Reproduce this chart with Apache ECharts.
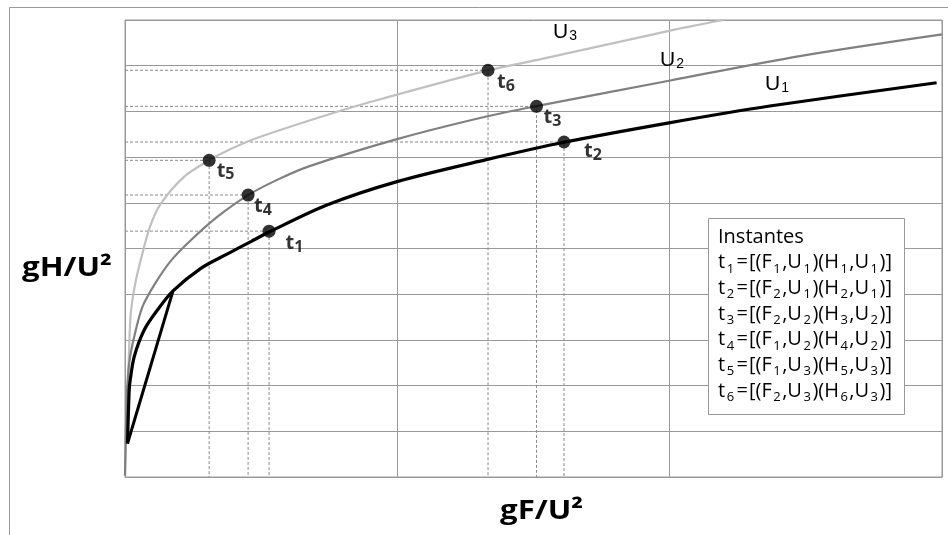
<!DOCTYPE html>
<html><head><meta charset="utf-8">
<script src="https://cdn.jsdelivr.net/npm/echarts@6/dist/echarts.min.js"></script>
<style>html,body{margin:0;padding:0;background:#fff}#c{width:948px;height:535px}</style>
</head><body><div id="c"></div>
<script>
// ---- data (axis units: x 0..3, y 0..10, no tick labels in the original) ----
const u1X = [0.0092, 0.0154, 0.0191, 0.0338, 0.0705, 0.1194, 0.1763, 0.2785, 0.3766, 0.4622, 0.5290, 0.7392, 1.0022, 1.3270, 1.6121, 1.9978, 2.3677, 2.9802];
const u1Y = [0.732, 1.901, 2.121, 2.632, 3.217, 3.656, 4.072, 4.566, 4.884, 5.151, 5.360, 5.947, 6.469, 6.945, 7.325, 7.750, 8.118, 8.627];
const u1ChordX = [0.0092, 0.1763];
const u1ChordY = [0.732, 4.072];
const u2X = [0.0, 0.0066, 0.0154, 0.0338, 0.0643, 0.1121, 0.1683, 0.2417, 0.3398, 0.4519, 0.5603, 0.6778, 1.0022, 1.3270, 1.5107, 1.9978, 2.4779, 3.0];
const u2Y = [0.03, 1.754, 2.494, 3.070, 3.728, 4.248, 4.730, 5.180, 5.695, 6.167, 6.507, 6.803, 7.399, 7.888, 8.114, 8.671, 9.211, 9.686];
const u3X = [0.0, 0.0154, 0.0213, 0.0367, 0.0588, 0.0918, 0.1315, 0.2175, 0.3086, 0.3766, 0.4941, 0.7880, 0.9471, 1.3328, 1.5228, 1.9978, 2.1962];
const u3Y = [0.05, 2.851, 3.583, 4.204, 4.774, 5.476, 5.980, 6.572, 6.930, 7.147, 7.439, 8.009, 8.283, 8.897, 9.138, 9.763, 10.0];
const instantIdx = ['1', '2', '3', '4', '5', '6'];
const instantX = [0.529, 1.612, 1.511, 0.452, 0.309, 1.333];
const instantY = [5.38, 7.33, 8.11, 6.17, 6.93, 8.90];
const legendF = ['1', '2', '2', '1', '1', '2'];
const legendU = ['1', '1', '2', '2', '3', '3'];
const legendH = ['1', '2', '3', '4', '5', '6'];
const curveIdx = ['1', '2', '3'];
const legendTitle = 'Instantes';
const yTitle = 'gH/U²';
const xTitle = 'gF/U²';

// ---- style ----
const labelOffsets = [[10, 13], [13.5, 10], [0.5, 12], [-0.5, 12], [1, 11.5], [2.5, 13]];
const curveLabelPos = [[765, 74], [660, 50], [553, 22]];
const gridColor = '#999';

const pairs = (xs, ys) => xs.map((x, i) => [x, ys[i]]);
const chart = echarts.init(document.getElementById('c'));

const guideSeries = instantX.map((x, i) => ({
  type: 'line', silent: true, symbol: 'none', z: 1,
  data: [[0, instantY[i]], [x, instantY[i]], [x, 0]],
  lineStyle: { color: '#8a8a8a', width: 1, type: [3, 2] }
}));

const curveStyle = { type: 'line', symbol: 'none', smooth: 0.3, silent: true, z: 3 };

const legendLines = ['{n|' + legendTitle + '}'].concat(instantIdx.map((t, i) =>
  '{n|t}{s|' + t + '}{e|=}{n|[(F}{s|' + legendF[i] + '}{n|,U}{s|' + legendU[i] + '}{n|)(H}{s|' + legendH[i] + '}{n|,U}{s|' + legendU[i] + '}{n|)]}'
));

const option = {
  animation: false,
  backgroundColor: '#fff',
  grid: { left: 125, right: 6, top: 20, bottom: 58, show: true, borderColor: gridColor, borderWidth: 1 },
  xAxis: {
    type: 'value', min: 0, max: 3, interval: 1,
    axisLine: { show: true, lineStyle: { color: gridColor } }, axisTick: { show: false }, axisLabel: { show: false },
    splitLine: { show: true, lineStyle: { color: gridColor, width: 1 } }
  },
  yAxis: {
    type: 'value', min: 0, max: 10, interval: 1,
    axisLine: { show: true, lineStyle: { color: gridColor } }, axisTick: { show: false }, axisLabel: { show: false },
    splitLine: { show: true, lineStyle: { color: gridColor, width: 1 } }
  },
  series: guideSeries.concat([
    Object.assign({}, curveStyle, { name: 'U3', data: pairs(u3X, u3Y), lineStyle: { color: '#c0c0c0', width: 2.2 } }),
    Object.assign({}, curveStyle, { name: 'U2', data: pairs(u2X, u2Y), lineStyle: { color: '#808080', width: 2.2 } }),
    Object.assign({}, curveStyle, { name: 'U1', data: pairs(u1X, u1Y), lineStyle: { color: '#000', width: 3.2 } }),
    { type: 'line', symbol: 'none', silent: true, z: 3, data: pairs(u1ChordX, u1ChordY), lineStyle: { color: '#000', width: 3 } },
    {
      type: 'scatter', z: 5, symbol: 'circle', symbolSize: 13, itemStyle: { color: '#000' },
      data: instantX.map((x, i) => ({
        value: [x, instantY[i]], name: instantIdx[i],
        label: { offset: labelOffsets[i] }
      })),
      label: {
        show: true, position: 'right', distance: 0,
        formatter: p => '{t|t}{s|' + p.name + '}',
        rich: {
          t: { fontSize: 20, fontWeight: 'bold', fontFamily: 'Open Sans', color: '#000', lineHeight: 22, verticalAlign: 'top' },
          s: { fontSize: 16, fontWeight: 'bold', fontFamily: 'Open Sans', color: '#000', lineHeight: 16, verticalAlign: 'bottom', padding: [12, 0, 0, 0] }
        }
      }
    }
  ]),
  graphic: [
    { type: 'polyline', z: 0, silent: true, shape: { points: [[9.5, 540], [9.5, 7.5], [950, 7.5]] }, style: { stroke: '#999', fill: null, lineWidth: 1 } },
    { type: 'rect', z: 100, silent: true, shape: { x: 708.5, y: 218.5, width: 196, height: 196 }, style: { fill: '#fff', stroke: '#999', lineWidth: 1 } },
    {
      type: 'text', z: 101, silent: true, x: 718, y: 224,
      style: {
        text: legendLines.join('\n'), fill: '#000', align: 'left', verticalAlign: 'top',
        rich: {
          n: { fontSize: 20, fontFamily: 'Open Sans', fill: '#000', lineHeight: 25.7, verticalAlign: 'middle' },
          e: { fontSize: 20, fontFamily: 'Open Sans', fill: '#000', lineHeight: 25.7, verticalAlign: 'middle', padding: [0, 1, 0, 1] },
          s: { fontSize: 13, fontFamily: 'Open Sans', fill: '#000', lineHeight: 14, verticalAlign: 'bottom', padding: [0, 1.5, 0, 1.5] }
        }
      }
    },
    {
      type: 'text', z: 101, silent: true, x: 22, y: 269, scaleX: 1.2,
      style: { text: yTitle, font: 'bold 26px "Open Sans"', fill: '#000', align: 'left', verticalAlign: 'middle' }
    },
    {
      type: 'text', z: 101, silent: true, x: 500, y: 512, scaleX: 1.2,
      style: { text: xTitle, font: 'bold 26px "Open Sans"', fill: '#000', align: 'left', verticalAlign: 'middle' }
    }
  ].concat(curveIdx.map((u, i) => ({
    type: 'text', z: 101, silent: true, x: curveLabelPos[i][0], y: curveLabelPos[i][1],
    style: {
      text: '{u|U}{s|' + u + '}', fill: '#000', align: 'left', verticalAlign: 'top',
      rich: {
        u: { fontSize: 21, fontFamily: 'Liberation Sans', fill: '#000', lineHeight: 21, verticalAlign: 'top' },
        s: { fontSize: 14, fontFamily: 'Liberation Sans', fill: '#000', lineHeight: 14, verticalAlign: 'bottom', padding: [9, 0, 0, 1] }
      }
    }
  })))
};
chart.setOption(option);
</script>
</body></html>
